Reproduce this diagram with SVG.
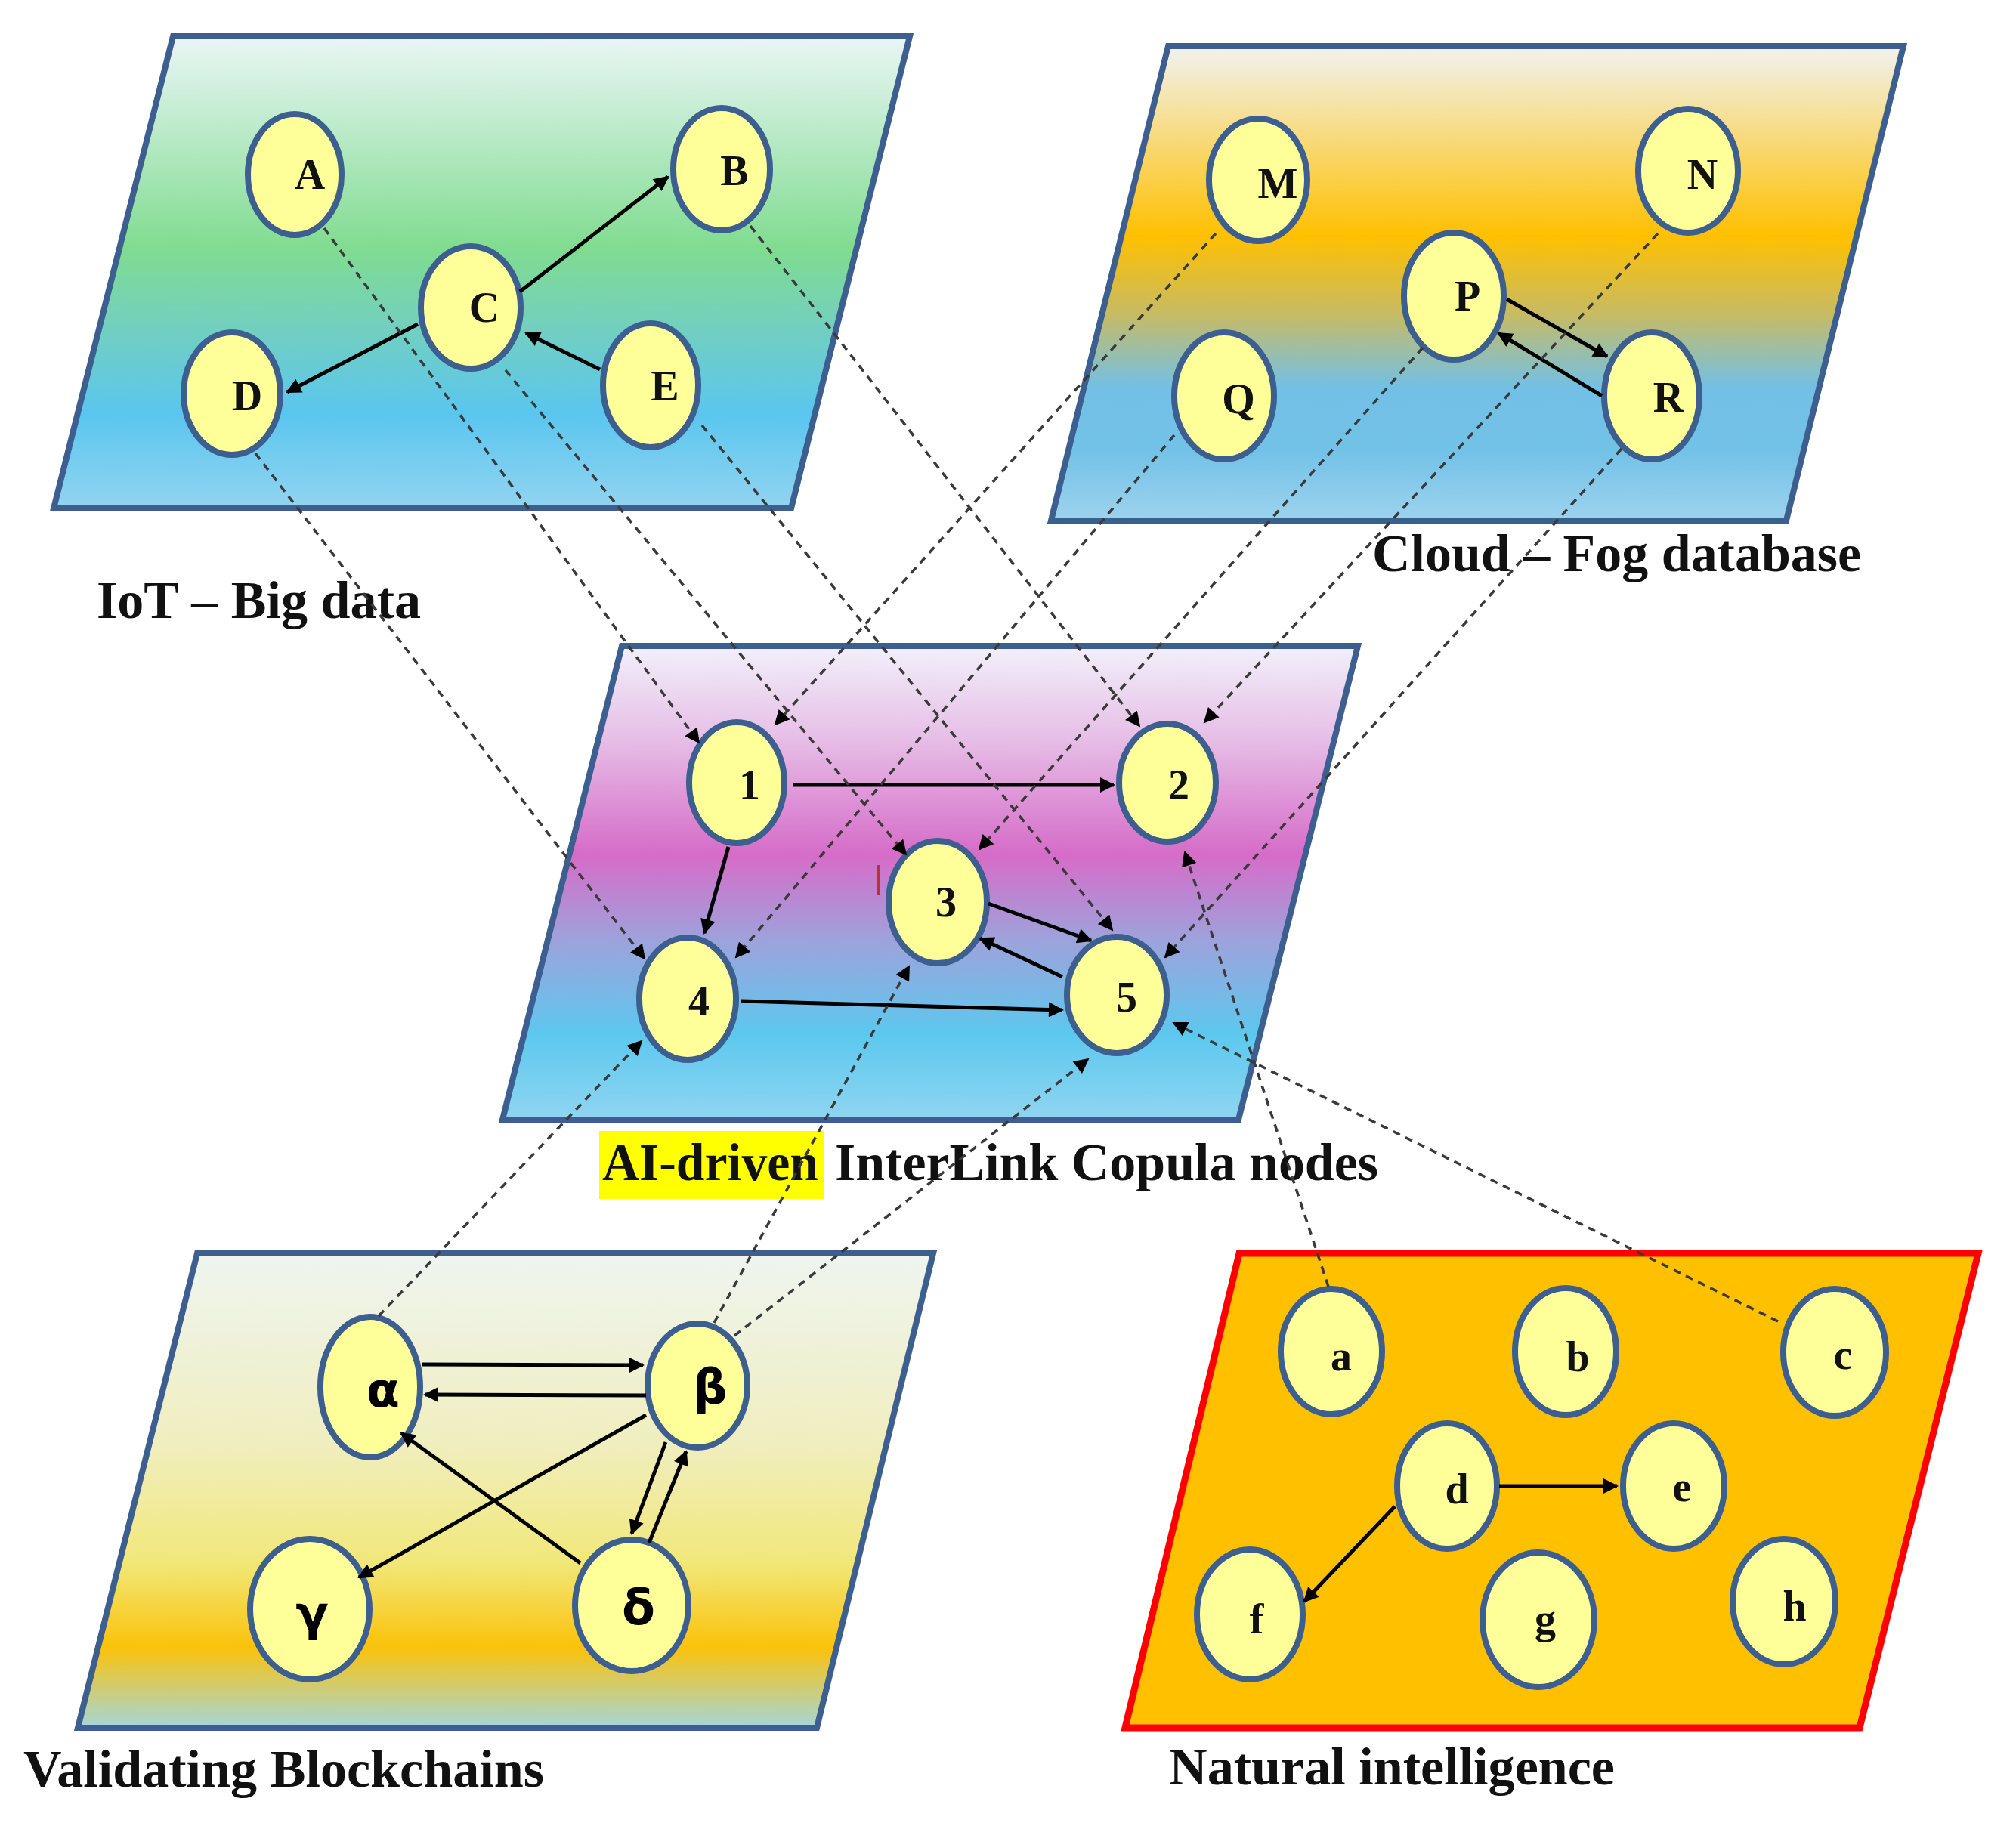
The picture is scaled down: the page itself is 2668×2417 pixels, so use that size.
<svg xmlns="http://www.w3.org/2000/svg" width="2668" height="2417" viewBox="0 0 2668 2417">
<style>
.pan{stroke:#3d5f8f;stroke-width:8;stroke-linejoin:miter}
.nd{fill:#ffff99;stroke:#3d5f8f;stroke-width:8}
.lbl{font-family:"Liberation Serif","Times New Roman",serif;font-weight:bold;font-size:56px;fill:#111;text-anchor:middle}
.grk{font-family:"DejaVu Sans","Liberation Sans",sans-serif;font-weight:bold;font-size:64px;fill:#000;text-anchor:middle}
.cap{font-family:"Liberation Serif","Times New Roman",serif;font-weight:bold;font-size:70px;fill:#111}
.sol{stroke:#000;stroke-width:5;fill:none;marker-end:url(#ah)}
.dsh{stroke:#3a3a3a;stroke-width:3.5;fill:none;stroke-dasharray:10 8;marker-end:url(#ahd)}
</style>
<defs>
<marker id="ah" viewBox="0 0 10 10" refX="9" refY="5" markerWidth="26" markerHeight="20" markerUnits="userSpaceOnUse" orient="auto"><path d="M0,0 L10,5 L0,10 z" fill="#000"/></marker>
<marker id="ahd" viewBox="0 0 10 10" refX="9" refY="5" markerWidth="24" markerHeight="20" markerUnits="userSpaceOnUse" orient="auto"><path d="M0,0 L10,5 L0,10 z" fill="#000"/></marker>
<linearGradient id="g1" x1="0" y1="0" x2="0" y2="1">
<stop offset="0" stop-color="#eaf6f6"/><stop offset="0.45" stop-color="#80dc90"/><stop offset="0.62" stop-color="#72cfc0"/><stop offset="0.8" stop-color="#5ac6ef"/><stop offset="1" stop-color="#92d4f0"/>
</linearGradient>
<linearGradient id="g2" x1="0" y1="0" x2="0" y2="1">
<stop offset="0" stop-color="#f1f2f0"/><stop offset="0.4" stop-color="#ffc000"/><stop offset="0.56" stop-color="#c9bb60"/><stop offset="0.72" stop-color="#72c0e6"/><stop offset="0.85" stop-color="#72c1e7"/><stop offset="1" stop-color="#9dd3ee"/>
</linearGradient>
<linearGradient id="g3" x1="0" y1="0" x2="0" y2="1">
<stop offset="0" stop-color="#f2f0fa"/><stop offset="0.2" stop-color="#e6bde6"/><stop offset="0.44" stop-color="#d66cc8"/><stop offset="0.62" stop-color="#9ea2dc"/><stop offset="0.82" stop-color="#5cc8ee"/><stop offset="1" stop-color="#90d5f0"/>
</linearGradient>
<linearGradient id="g4" x1="0" y1="0" x2="0" y2="1">
<stop offset="0" stop-color="#eef5f0"/><stop offset="0.4" stop-color="#f0eebf"/><stop offset="0.65" stop-color="#f1e87a"/><stop offset="0.83" stop-color="#fbc20a"/><stop offset="1" stop-color="#a5d6d8"/>
</linearGradient>
</defs>
<rect width="2668" height="2417" fill="#fff"/>
<g id="panel-iot"><polygon class="pan" fill="url(#g1)" points="229,48 1204,48 1047,673 71,673"/></g>
<g id="panel-cloud"><polygon class="pan" fill="url(#g2)" points="1546,61 2519,61 2364,689 1391,689"/></g>
<g id="panel-ai"><polygon class="pan" fill="url(#g3)" points="823,855 1797,855 1639,1482 665,1482"/></g>
<g id="panel-blockchain"><polygon class="pan" fill="url(#g4)" points="261,1659 1235,1659 1081,2287 103,2287"/></g>
<g id="panel-natural"><polygon fill="#ffc000" stroke="#ff0000" stroke-width="9" points="1640,1659 2618,1659 2461,2287 1489,2287"/></g>
<g id="captions">
<text class="cap" x="128" y="818" textLength="429" lengthAdjust="spacingAndGlyphs">IoT – Big data</text>
<text class="cap" x="1816" y="756" textLength="647" lengthAdjust="spacingAndGlyphs">Cloud – Fog database</text>
<rect x="793" y="1497" width="297" height="90" fill="#ffff00"/>
<text class="cap" x="797" y="1562" textLength="286" lengthAdjust="spacingAndGlyphs">AI-driven</text>
<text class="cap" x="1105" y="1562" textLength="719" lengthAdjust="spacingAndGlyphs">InterLink Copula nodes</text>
<text class="cap" x="31" y="2365" textLength="689" lengthAdjust="spacingAndGlyphs">Validating Blockchains</text>
<text class="cap" x="1547" y="2362" textLength="590" lengthAdjust="spacingAndGlyphs">Natural intelligence</text>
</g>
<rect x="1160" y="1145" width="4" height="40" fill="#c03030"/>
<g id="node-A"><ellipse class="nd" cx="390" cy="231" rx="62" ry="80"/><text class="lbl" x="410" y="250">A</text></g>
<g id="node-B"><ellipse class="nd" cx="955" cy="224" rx="64" ry="81"/><text class="lbl" x="972" y="245">B</text></g>
<g id="node-C"><ellipse class="nd" cx="623" cy="407" rx="66" ry="81"/><text class="lbl" x="641" y="426">C</text></g>
<g id="node-D"><ellipse class="nd" cx="307" cy="521" rx="64" ry="81"/><text class="lbl" x="327" y="543">D</text></g>
<g id="node-E"><ellipse class="nd" cx="861" cy="510" rx="63" ry="82"/><text class="lbl" x="880" y="530">E</text></g>
<g id="node-M"><ellipse class="nd" cx="1665" cy="238" rx="65" ry="81"/><text class="lbl" x="1691" y="262">M</text></g>
<g id="node-N"><ellipse class="nd" cx="2234" cy="226" rx="66" ry="82"/><text class="lbl" x="2253" y="250">N</text></g>
<g id="node-P"><ellipse class="nd" cx="1924" cy="392" rx="66" ry="84"/><text class="lbl" x="1942" y="411">P</text></g>
<g id="node-Q"><ellipse class="nd" cx="1620" cy="524" rx="66" ry="84"/><text class="lbl" x="1639" y="547">Q</text></g>
<g id="node-R"><ellipse class="nd" cx="2186" cy="524" rx="63" ry="84"/><text class="lbl" x="2208" y="545">R</text></g>
<g id="node-1"><ellipse class="nd" cx="975" cy="1036" rx="63" ry="80"/><text class="lbl" x="992" y="1058">1</text></g>
<g id="node-2"><ellipse class="nd" cx="1545" cy="1036" rx="64" ry="78"/><text class="lbl" x="1560" y="1058">2</text></g>
<g id="node-3"><ellipse class="nd" cx="1241" cy="1194" rx="65" ry="81"/><text class="lbl" x="1252" y="1213">3</text></g>
<g id="node-4"><ellipse class="nd" cx="910" cy="1322" rx="64" ry="81"/><text class="lbl" x="925" y="1344">4</text></g>
<g id="node-5"><ellipse class="nd" cx="1478" cy="1317" rx="66" ry="77"/><text class="lbl" x="1491" y="1339">5</text></g>
<g id="node-alpha"><ellipse class="nd" cx="490" cy="1836" rx="66" ry="93"/><text class="grk" x="507" y="1862">α</text></g>
<g id="node-beta"><ellipse class="nd" cx="923" cy="1834" rx="66" ry="82"/><text class="grk" x="940" y="1858">β</text></g>
<g id="node-gamma"><ellipse class="nd" cx="410" cy="2130" rx="79" ry="93"/><text class="grk" x="413" y="2158">γ</text></g>
<g id="node-delta"><ellipse class="nd" cx="836" cy="2125" rx="75" ry="87"/><text class="grk" x="845" y="2150">δ</text></g>
<g id="node-a"><ellipse class="nd" cx="1762" cy="1789" rx="67" ry="83"/><text class="lbl" x="1775" y="1814">a</text></g>
<g id="node-b"><ellipse class="nd" cx="2072" cy="1789" rx="67" ry="84"/><text class="lbl" x="2088" y="1815">b</text></g>
<g id="node-c"><ellipse class="nd" cx="2428" cy="1790" rx="68" ry="84"/><text class="lbl" x="2439" y="1812">c</text></g>
<g id="node-d"><ellipse class="nd" cx="1915" cy="1967" rx="66" ry="83"/><text class="lbl" x="1928" y="1990">d</text></g>
<g id="node-e"><ellipse class="nd" cx="2215" cy="1967" rx="67" ry="83"/><text class="lbl" x="2226" y="1987">e</text></g>
<g id="node-f"><ellipse class="nd" cx="1654" cy="2137" rx="70" ry="86"/><text class="lbl" x="1663" y="2162">f</text></g>
<g id="node-g"><ellipse class="nd" cx="2036" cy="2144" rx="74" ry="89"/><text class="lbl" x="2045" y="2162">g</text></g>
<g id="node-h"><ellipse class="nd" cx="2361" cy="2120" rx="68" ry="83"/><text class="lbl" x="2375" y="2145">h</text></g>
<g id="connectors">
<line class="sol" x1="688" y1="386" x2="884" y2="234"/>
<line class="sol" x1="553" y1="429" x2="380" y2="519"/>
<line class="sol" x1="794" y1="489" x2="696" y2="441"/>
<line class="sol" x1="1994" y1="396" x2="2127" y2="472"/>
<line class="sol" x1="2120" y1="524" x2="1983" y2="441"/>
<line class="sol" x1="1049" y1="1039" x2="1474" y2="1039" stroke="#5a3656"/>
<line class="sol" x1="964" y1="1121" x2="932" y2="1235"/>
<line class="sol" x1="1308" y1="1196" x2="1444" y2="1245"/>
<line class="sol" x1="1406" y1="1293" x2="1297" y2="1242"/>
<line class="sol" x1="981" y1="1325" x2="1406" y2="1337" stroke="#17343a"/>
<line class="sol" x1="558" y1="1806" x2="851" y2="1807" stroke="#2a2a20"/>
<line class="sol" x1="855" y1="1847" x2="562" y2="1846" stroke="#2a2a20"/>
<line class="sol" x1="855" y1="1873" x2="475" y2="2088"/>
<line class="sol" x1="768" y1="2069" x2="531" y2="1897"/>
<line class="sol" x1="881" y1="1909" x2="836" y2="2030"/>
<line class="sol" x1="859" y1="2042" x2="908" y2="1921"/>
<line class="sol" x1="1984" y1="1967" x2="2140" y2="1967"/>
<line class="sol" x1="1846" y1="1994" x2="1726" y2="2120"/>
<line class="dsh" x1="429" y1="302" x2="925" y2="983"/>
<line class="dsh" x1="993" y1="299" x2="1508" y2="961"/>
<line class="dsh" x1="669" y1="490" x2="1199" y2="1131"/>
<line class="dsh" x1="929" y1="563" x2="1472" y2="1231"/>
<line class="dsh" x1="338" y1="600" x2="853" y2="1269"/>
<line class="dsh" x1="1609" y1="309" x2="1026" y2="959"/>
<line class="dsh" x1="2194" y1="309" x2="1594" y2="956"/>
<line class="dsh" x1="1883" y1="460" x2="1296" y2="1124"/>
<line class="dsh" x1="1554" y1="576" x2="974" y2="1267"/>
<line class="dsh" x1="2146" y1="594" x2="1542" y2="1267"/>
<line class="dsh" x1="501" y1="1742" x2="849" y2="1378"/>
<line class="dsh" x1="945" y1="1751" x2="1203" y2="1279"/>
<line class="dsh" x1="972" y1="1768" x2="1440" y2="1402"/>
<line class="dsh" x1="1758" y1="1703" x2="1568" y2="1128"/>
<line class="dsh" x1="2353" y1="1749" x2="1553" y2="1354"/>
</g>
</svg>
